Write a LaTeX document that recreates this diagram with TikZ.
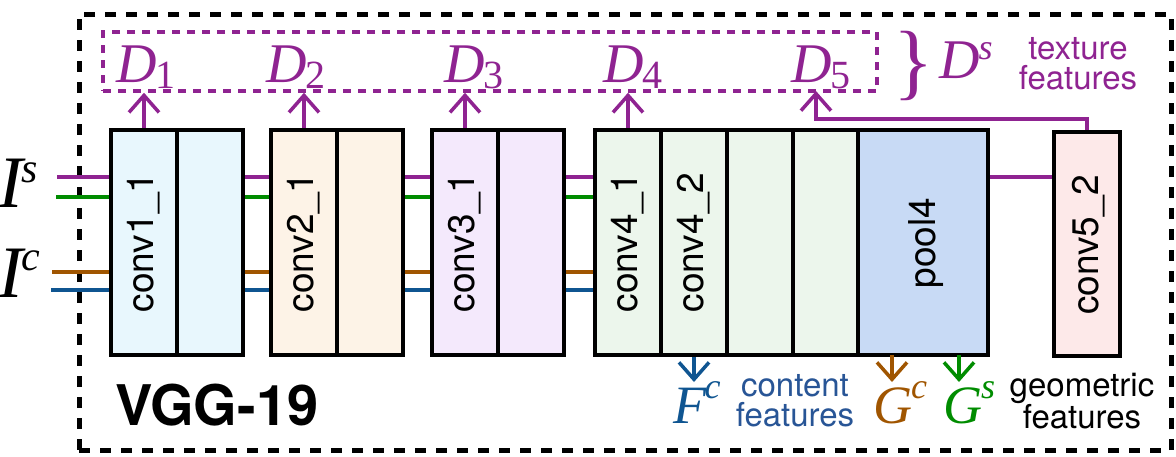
\documentclass[tikz,border=0pt]{standalone}
\usepackage{fontspec}
\setmainfont{Liberation Serif}
\setsansfont{TeX Gyre Heros}
\usetikzlibrary{arrows.meta}
\definecolor{pur}{RGB}{143,35,145}
\definecolor{grn}{RGB}{0,140,0}
\definecolor{brn}{RGB}{160,85,0}
\definecolor{blu}{RGB}{15,85,145}
\definecolor{blutxt}{RGB}{40,85,150}
\definecolor{fa}{RGB}{232,247,253}
\definecolor{fb}{RGB}{253,243,231}
\definecolor{fc}{RGB}{244,233,252}
\definecolor{fd}{RGB}{236,246,236}
\definecolor{fe}{RGB}{200,218,245}
\definecolor{ff}{RGB}{253,233,233}
\newcommand\mi[1]{{\rmfamily\itshape #1}}
\newcommand\fsz[1]{\fontsize{#1}{#1}\selectfont}
\begin{document}
\begin{tikzpicture}[x=1pt,y=-1pt,
  blk/.style={draw=black, line width=4.5pt, inner sep=0pt, minimum height=225pt, minimum width=66pt},
  lbl/.style={rotate=90, font=\sffamily\fsz{37}, inner sep=0pt},
  wire/.style={line width=3.5pt},
  upar/.style={draw=pur, line width=3.5pt, -{Straight Barb[length=17pt,width=30pt]}},
  dnar/.style={line width=3.5pt, -{Straight Barb[length=17pt,width=30pt]}},
  sym/.style={inner sep=0pt, anchor=base, font=\rmfamily\fsz{56}},
  note/.style={inner sep=0pt, align=center, font=\sffamily\fontsize{33}{30}\selectfont}]
\useasboundingbox (0,0) rectangle (1176,456);
% outer frame
\node[draw=black, line width=5pt, dash pattern=on 11pt off 10pt, minimum width=1092pt, minimum height=436pt, inner sep=0pt] (frame) at (625,232) {};
% purple box
\node[draw=pur, line width=3.5pt, dash pattern=on 8pt off 7pt, minimum width=774pt, minimum height=59pt, inner sep=0pt] (ds) at (490,61.5) {};
% blocks
\node[blk, fill=fa] (c11) at (144,242.5) {};
\node[blk, fill=fa] (c12) at (210,242.5) {};
\node[blk, fill=fb] (c21) at (304,242.5) {};
\node[blk, fill=fb] (c22) at (370,242.5) {};
\node[blk, fill=fc] (c31) at (465,242.5) {};
\node[blk, fill=fc] (c32) at (531,242.5) {};
\node[blk, fill=fd] (c41) at (628,242.5) {};
\node[blk, fill=fd] (c42) at (694,242.5) {};
\node[blk, fill=fd] (c43) at (760,242.5) {};
\node[blk, fill=fd, minimum width=65pt] (c44) at (825.5,242.5) {};
\node[blk, fill=fe, minimum width=130pt] (pool) at (923,242.5) {};
\node[blk, fill=ff, minimum height=224pt] (c52) at (1087,244) {};
% block labels
\node[lbl] (l11) at (c11) {conv1\_1};
\node[lbl] (l21) at (c21) {conv2\_1};
\node[lbl] (l31) at (c31) {conv3\_1};
\node[lbl] (l41) at (c41) {conv4\_1};
\node[lbl] (l42) at (c42) {conv4\_2};
\node[lbl] (lp) at (926,243) {pool4};
\node[lbl] (l52) at (1089,245) {conv5\_2};
% inputs
\node[sym, anchor=base west, font=\rmfamily\fsz{74}] (Is) at (-2,207) {\mi{I}\kern-1pt\raisebox{25pt}{\fsz{42}\mi{s}}};
\node[sym, anchor=base west, font=\rmfamily\fsz{74}] (Ic) at (-2,297) {\mi{I}\kern-1pt\raisebox{27pt}{\fsz{42}\mi{c}}};
\coordinate (is1) at (57,177);
\coordinate (is2) at (56,197);
\coordinate (ic1) at (52,272);
\coordinate (ic2) at (51,290);
\draw[wire, pur] (is1) -- (is1 -| c11.west);
\draw[wire, grn] (is2) -- (is2 -| c11.west);
\draw[wire, brn] (ic1) -- (ic1 -| c11.west);
\draw[wire, blu] (ic2) -- (ic2 -| c11.west);
\foreach \a/\b in {c12/c21, c22/c31, c32/c41} {
  \draw[wire, pur] (\a.east |- 0,177) -- (\b.west |- 0,177);
  \draw[wire, grn] (\a.east |- 0,197) -- (\b.west |- 0,197);
  \draw[wire, brn] (\a.east |- 0,272) -- (\b.west |- 0,272);
  \draw[wire, blu] (\a.east |- 0,290) -- (\b.west |- 0,290);
}
\draw[wire, pur] (pool.east |- 0,177) -- (c52.west |- 0,177);
% up arrows
\foreach \n in {c11,c21,c31,c41} {
  \draw[upar] (\n.north) -- (\n.north |- ds.south);
}
\coordinate (d5turn) at (816,119);
\coordinate (d5in) at (816,91);
\draw[upar] (c52.north) |- (d5turn) -- (d5in);
% D labels
\node[sym, text=pur] (D1) at (146,82) {\mi{D}\kern-1pt\raisebox{-6pt}{\fsz{40}1}};
\node[sym, text=pur] (D2) at (296,82) {\mi{D}\kern-1pt\raisebox{-6pt}{\fsz{40}2}};
\node[sym, text=pur] (D3) at (474,82) {\mi{D}\kern-1pt\raisebox{-6pt}{\fsz{40}3}};
\node[sym, text=pur] (D4) at (633,82) {\mi{D}\kern-1pt\raisebox{-6pt}{\fsz{40}4}};
\node[sym, text=pur] (D5) at (821,82) {\mi{D}\kern-1pt\raisebox{-6pt}{\fsz{40}5}};
\node[sym, text=pur, font=\rmfamily\fsz{84}] (br) at (914,89) {\}};
\node[sym, text=pur] (Ds) at (966,78) {\mi{D}\kern-1pt\raisebox{19pt}{\fsz{36}\mi{s}}};
\node[note, text=pur] (tex) at (1078,64) {texture\\features};
% bottom arrows and labels
\coordinate (fc) at (c42.south |- 0,382);
\coordinate (gcs) at (892,355);
\coordinate (gc) at (892,382);
\coordinate (gss) at (959,355);
\coordinate (gs) at (959,382);
\draw[dnar, blu] (c42.south) -- (fc);
\draw[dnar, brn] (gcs) -- (gc);
\draw[dnar, grn] (gss) -- (gs);
\node[sym, text=blu, font=\rmfamily\fsz{54}] (Fc) at (697,423) {\mi{F}\kern-2pt\raisebox{25pt}{\fsz{36}\mi{c}}};
\node[sym, text=brn, font=\rmfamily\fsz{54}] (Gc) at (900,423) {\mi{G}\kern-1pt\raisebox{25pt}{\fsz{36}\mi{c}}};
\node[sym, text=grn, font=\rmfamily\fsz{54}] (Gs) at (969,423) {\mi{G}\kern-1pt\raisebox{25pt}{\fsz{36}\mi{s}}};
\node[note, text=blutxt] (cf) at (795,401) {content\\features};
\node[note, text=black] (gf) at (1082,401) {geometric\\features};
\node[inner sep=0pt, anchor=base west, font=\sffamily\bfseries\fsz{56}] (vgg) at (115,425) {VGG-19};
\end{tikzpicture}
\end{document}
